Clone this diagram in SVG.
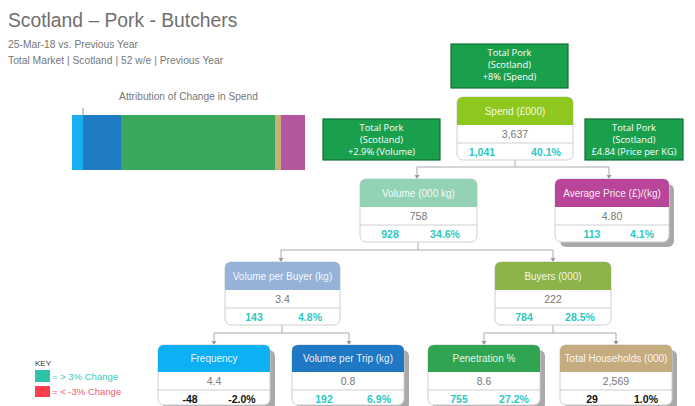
<svg xmlns="http://www.w3.org/2000/svg" width="695" height="406" viewBox="0 0 695 406">
<defs>
<style>
text{font-family:"Liberation Sans",Arial,sans-serif}
.title{font-size:19.3px;fill:#6f6f6f}
.sub{font-size:10.3px;fill:#777}
.cap{font-size:10.2px;fill:#777}
.gbox{fill:#1aa04d;stroke:#0e6e33;stroke-width:1.2}
.gt{font-family:"Open Sans","Liberation Sans",sans-serif;font-size:9.3px;fill:#fff;text-anchor:middle}
.card{fill:#fff;stroke:#cfcfcf;stroke-width:1}
.shadow{fill:#8c8c8c;opacity:0.75}
.div{stroke:#cfcfcf;stroke-width:1}
.ht{font-size:10px;fill:#fff;fill-opacity:0.92;text-anchor:middle}
.vt{font-size:10.5px;fill:#777;text-anchor:middle}
.bt{font-size:10.5px;fill:#2ec8c0;font-weight:bold;text-anchor:middle}
.bk{font-size:10.5px;fill:#111;font-weight:bold;text-anchor:middle}
.conn{fill:none;stroke:#aaa;stroke-width:1}
.ah{fill:#999}
</style>
</defs>
<rect width="695" height="406" fill="#fff"/>

<g id="header">
<text x="8" y="27" class="title">Scotland – Pork - Butchers</text>
<text x="8" y="48" class="sub">25-Mar-18 vs. Previous Year</text>
<text x="8" y="64" class="sub">Total Market | Scotland | 52 w/e | Previous Year</text>
</g>

<g id="attribution">
<text x="188.5" y="100" class="cap" text-anchor="middle">Attribution of Change in Spend</text>
<rect x="72" y="115" width="11" height="55" fill="#18aef0"/>
<rect x="83" y="115" width="38" height="55" fill="#1f7bc4"/>
<rect x="121" y="115" width="154" height="55" fill="#3aa85c"/>
<rect x="275" y="115" width="6" height="55" fill="#c8ae7a"/>
<rect x="281" y="115" width="24" height="55" fill="#b5579c"/>
<line x1="83" y1="108" x2="83" y2="117" stroke="#777" stroke-width="0.8"/>
</g>

<g id="total-spend">
<rect x="451" y="44" width="117" height="44" class="gbox"/>
<text x="509.5" y="56" class="gt">Total Pork</text>
<text x="509.5" y="68" class="gt">(Scotland)</text>
<text x="509.5" y="80" class="gt">+8% (Spend)</text>
</g>
<g id="total-volume">
<rect x="323" y="119" width="117" height="41" class="gbox"/>
<text x="381.5" y="131" class="gt">Total Pork</text>
<text x="381.5" y="143" class="gt">(Scotland)</text>
<text x="381.5" y="155" class="gt">+2.9% (Volume)</text>
</g>
<g id="total-price">
<rect x="585" y="119" width="98" height="41" class="gbox"/>
<text x="634" y="131" class="gt">Total Pork</text>
<text x="634" y="143" class="gt">(Scotland)</text>
<text x="634" y="155" class="gt" font-size="9px">£4.84 (Price per KG)</text>
</g>

<g id="connectors">
<path class="conn" d="M515,160 V167 M417,167 H609 M417,167 V177 M609,167 V177" />
<path class="ah" d="M414.5,175 L419.5,175 L417,179 z M606.5,175 L611.5,175 L609,179 z"/>
<path class="conn" d="M418,242 V250 M281,250 H553 M281,250 V260 M553,250 V260" />
<path class="ah" d="M278.5,258 L283.5,258 L281,262 z M550.5,258 L555.5,258 L553,262 z"/>
<path class="conn" d="M282,325 V333 M214,333 H349 M214,333 V343 M349,333 V343" />
<path class="ah" d="M211.5,341 L216.5,341 L214,345 z M346.5,341 L351.5,341 L349,345 z"/>
<path class="conn" d="M553,325 V333 M484,333 H616 M484,333 V343 M616,333 V343" />
<path class="ah" d="M481.5,341 L486.5,341 L484,345 z M613.5,341 L618.5,341 L616,345 z"/>
</g>

<g id="spend">
<rect x="457" y="97" width="116" height="63" rx="6" class="card"/>
<path d="M457,125 V103 Q457,97 463,97 H567 Q573,97 573,103 V125 Z" fill="#8ec81e"/>
<line x1="457" y1="143" x2="573" y2="143" class="div"/>
<text x="515" y="115" class="ht">Spend (£000)</text>
<text x="515" y="138" class="vt">3,637</text>
<text x="482" y="156" class="bt">1,041</text>
<text x="546" y="156" class="bt">40.1%</text>
</g>

<g id="volume">
<rect x="360" y="179" width="117" height="63" rx="6" class="card"/>
<path d="M360,207 V185 Q360,179 366,179 H471 Q477,179 477,185 V207 Z" fill="#93d2b4"/>
<line x1="360" y1="225" x2="477" y2="225" class="div"/>
<text x="418.5" y="197" class="ht">Volume (000 kg)</text>
<text x="418.5" y="220" class="vt">758</text>
<text x="390" y="238" class="bt">928</text>
<text x="445" y="238" class="bt">34.6%</text>
</g>

<g id="avg-price">
<rect x="560" y="184" width="114" height="63" rx="6" class="shadow"/>
<rect x="555" y="179" width="114" height="63" rx="6" class="card"/>
<path d="M555,207 V185 Q555,179 561,179 H663 Q669,179 669,185 V207 Z" fill="#b8459a"/>
<line x1="555" y1="225" x2="669" y2="225" class="div"/>
<text x="612" y="197" class="ht">Average Price (£)/(kg)</text>
<text x="612" y="220" class="vt">4.80</text>
<text x="592" y="238" class="bt">113</text>
<text x="642" y="238" class="bt">4.1%</text>
</g>

<g id="volume-per-buyer">
<rect x="225" y="262" width="115" height="63" rx="6" class="card"/>
<path d="M225,290 V268 Q225,262 231,262 H334 Q340,262 340,268 V290 Z" fill="#95b3d9"/>
<line x1="225" y1="308" x2="340" y2="308" class="div"/>
<text x="282.5" y="280" class="ht">Volume per Buyer (kg)</text>
<text x="282.5" y="303" class="vt">3.4</text>
<text x="254" y="321" class="bt">143</text>
<text x="310" y="321" class="bt">4.8%</text>
</g>

<g id="buyers">
<rect x="495" y="262" width="116" height="63" rx="6" class="card"/>
<path d="M495,290 V268 Q495,262 501,262 H605 Q611,262 611,268 V290 Z" fill="#8db44a"/>
<line x1="495" y1="308" x2="611" y2="308" class="div"/>
<text x="553" y="280" class="ht">Buyers (000)</text>
<text x="553" y="303" class="vt">222</text>
<text x="524" y="321" class="bt">784</text>
<text x="580" y="321" class="bt">28.5%</text>
</g>

<g id="frequency">
<rect x="163" y="350" width="112" height="60" rx="6" class="shadow"/>
<rect x="158" y="345" width="112" height="60" rx="6" class="card"/>
<path d="M158,372 V351 Q158,345 164,345 H264 Q270,345 270,351 V372 Z" fill="#0db0f2"/>
<line x1="158" y1="390" x2="270" y2="390" class="div"/>
<text x="214" y="362" class="ht">Frequency</text>
<text x="214" y="385" class="vt">4.4</text>
<text x="190" y="403" class="bk">-48</text>
<text x="242" y="403" class="bk">-2.0%</text>
</g>

<g id="volume-per-trip">
<rect x="297" y="350" width="112" height="60" rx="6" class="shadow"/>
<rect x="292" y="345" width="112" height="60" rx="6" class="card"/>
<path d="M292,372 V351 Q292,345 298,345 H398 Q404,345 404,351 V372 Z" fill="#1f78c3"/>
<line x1="292" y1="390" x2="404" y2="390" class="div"/>
<text x="348" y="362" class="ht">Volume per Trip (kg)</text>
<text x="348" y="385" class="vt">0.8</text>
<text x="324" y="403" class="bt">192</text>
<text x="379" y="403" class="bt">6.9%</text>
</g>

<g id="penetration">
<rect x="433" y="350" width="112" height="60" rx="6" class="shadow"/>
<rect x="428" y="345" width="112" height="60" rx="6" class="card"/>
<path d="M428,372 V351 Q428,345 434,345 H534 Q540,345 540,351 V372 Z" fill="#2fa552"/>
<line x1="428" y1="390" x2="540" y2="390" class="div"/>
<text x="484" y="362" class="ht">Penetration %</text>
<text x="484" y="385" class="vt">8.6</text>
<text x="459" y="403" class="bt">755</text>
<text x="514" y="403" class="bt">27.2%</text>
</g>

<g id="total-households">
<rect x="565" y="350" width="112" height="60" rx="6" class="shadow"/>
<rect x="560" y="345" width="112" height="60" rx="6" class="card"/>
<path d="M560,372 V351 Q560,345 566,345 H666 Q672,345 672,351 V372 Z" fill="#c5ac7e"/>
<line x1="560" y1="390" x2="672" y2="390" class="div"/>
<text x="616" y="362" class="ht">Total Households (000)</text>
<text x="616" y="385" class="vt">2,569</text>
<text x="592" y="403" class="bk">29</text>
<text x="646" y="403" class="bk">1.0%</text>
</g>

<g id="key">
<text x="35" y="366" font-size="8px" fill="#333">KEY</text>
<rect x="35" y="370" width="15" height="12" fill="#2fc4a8"/>
<text x="52" y="380" font-size="9.5px" fill="#3cc8c0">= &gt; 3% Change</text>
<rect x="35" y="386" width="15" height="11" fill="#ff3d4d"/>
<text x="52" y="395" font-size="9.5px" fill="#f05a70">= &lt; -3% Change</text>
</g>
</svg>
